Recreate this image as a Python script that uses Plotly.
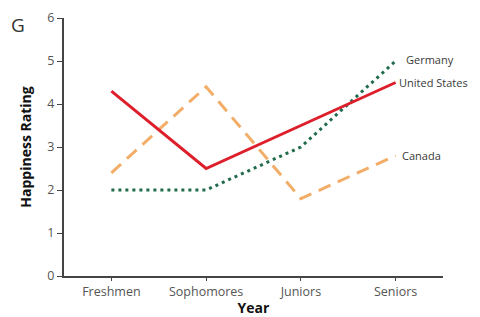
import plotly.graph_objects as go

years = ["Freshmen", "Sophomores", "Juniors", "Seniors"]
us = [4.3, 2.5, 3.5, 4.5]
canada = [2.4, 4.4, 1.8, 2.8]
germany = [2.0, 2.0, 3.0, 5.0]
y_ticks = [0, 1, 2, 3, 4, 5, 6]

font = "Open Sans, Liberation Sans, sans-serif"

fig = go.Figure()
fig.add_trace(go.Scatter(x=years, y=canada, mode="lines", name="Canada",
                         line=dict(color="#F2AE68", width=3, dash="13px,8px")))
fig.add_trace(go.Scatter(x=years, y=germany, mode="lines", name="Germany",
                         line=dict(color="#1F6B4A", width=3, dash="3px,4px")))
fig.add_trace(go.Scatter(x=years, y=us, mode="lines", name="United States",
                         line=dict(color="#DD1F2B", width=3)))

labels = [("Germany", germany[-1], 8, 2), ("United States", us[-1], 1, 0), ("Canada", canada[-1], 4, 0)]
for text, yv, xs, ys in labels:
    fig.add_annotation(x=years[-1], y=yv, text=text, showarrow=False, xanchor="left",
                       xshift=xs, yshift=ys, font=dict(family=font, size=11, color="#3a3a3a"))

fig.add_annotation(xref="paper", yref="paper", x=-0.121, y=0.972, text="G", showarrow=False,
                   xanchor="center", yanchor="middle", font=dict(family=font, size=19, color="#333333"))

# page body has an 8px default margin; compensate so the plot area lands where the reference has it
fig.update_layout(
    width=472, height=309, showlegend=False,
    margin=dict(l=56, r=37, t=10, b=41),
    paper_bgcolor="white", plot_bgcolor="white",
    font=dict(family=font, size=12, color="#555555"),
    xaxis=dict(range=[-0.5, 3.5], showline=True, linecolor="#444444", linewidth=2,
               ticks="outside", ticklen=3, tickcolor="#444444", showgrid=False, automargin=False,
               title=dict(text="<b>Year</b>", font=dict(size=14, color="#111111"), standoff=2),
               tickfont=dict(size=12.5, color="#555555")),
    yaxis=dict(range=[0, 6], tickvals=y_ticks, showline=True, linecolor="#444444", linewidth=2,
               ticks="outside", ticklen=5, tickcolor="#444444", showgrid=False, zeroline=False,
               automargin=False,
               title=dict(text="<b>Happiness Rating</b>", font=dict(size=14, color="#111111"), standoff=12),
               tickfont=dict(size=12.5, color="#555555")),
)

fig.write_html("out.html")
